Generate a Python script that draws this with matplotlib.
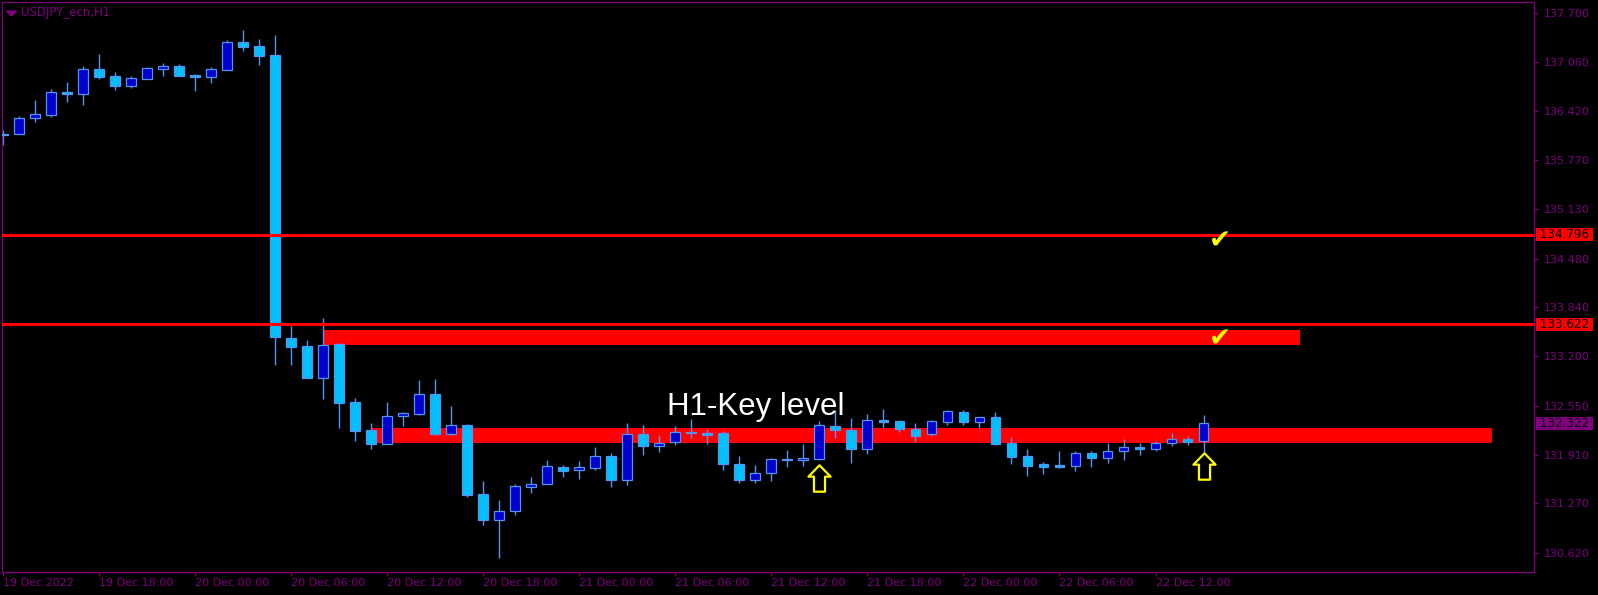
# USDJPY H1 chart with key levels (MT4 style)

import numpy as np
import matplotlib.pyplot as plt
import matplotlib.transforms as mtransforms
from matplotlib.path import Path

# Candles (bar 0 = 19 Dec 2022)
opens = [136.105, 136.112, 136.322, 136.369, 136.663, 136.637, 136.965, 136.873, 136.750, 136.842,
         136.973, 137.004, 136.890, 136.868, 136.960, 137.319, 137.267, 137.153, 133.435, 133.330,
         132.918, 133.360, 132.595, 132.228, 132.052, 132.411, 132.445, 132.700, 132.183, 132.293,
         131.388, 131.054, 131.165, 131.487, 131.519, 131.746, 131.703, 131.737, 131.886, 131.571,
         132.175, 132.018, 132.070, 132.209, 132.193, 132.193, 131.781, 131.571, 131.663, 131.834,
         131.834, 131.855, 132.280, 132.228, 131.978, 132.363, 132.346, 132.241, 132.175, 132.340,
         132.464, 132.340, 132.398, 132.057, 131.886, 131.781, 131.768, 131.763, 131.926, 131.868,
         131.952, 132.004, 131.978, 132.057, 132.109, 132.083]
highs = [136.168, 136.348, 136.562, 136.707, 136.798, 137.008, 137.166, 136.930, 136.877, 136.995,
         137.048, 137.035, 136.903, 136.995, 137.350, 137.481, 137.363, 137.415, 133.596, 133.413,
         133.701, 133.377, 132.652, 132.324, 132.599, 132.468, 132.888, 132.901, 132.546, 132.310,
         131.562, 131.313, 131.523, 131.615, 131.838, 131.772, 131.825, 132.004, 131.926, 132.323,
         132.297, 132.166, 132.284, 132.376, 132.245, 132.219, 131.886, 131.768, 131.864, 131.969,
         132.048, 132.346, 132.494, 132.385, 132.441, 132.507, 132.363, 132.323, 132.363, 132.494,
         132.494, 132.398, 132.468, 132.139, 131.982, 131.811, 131.956, 131.956, 131.956, 132.061,
         132.113, 132.061, 132.083, 132.192, 132.153, 132.428]
lows = [135.970, 136.112, 136.277, 136.343, 136.540, 136.497, 136.842, 136.697, 136.724, 136.842,
        136.881, 136.881, 136.684, 136.789, 136.960, 137.209, 137.025, 133.085, 133.085, 132.918,
        132.638, 132.262, 132.087, 131.982, 132.052, 132.284, 132.428, 132.166, 132.170, 131.356,
        130.985, 130.556, 131.116, 131.409, 131.519, 131.619, 131.592, 131.711, 131.487, 131.514,
        131.907, 131.939, 132.039, 132.130, 132.044, 131.711, 131.540, 131.540, 131.558, 131.750,
        131.763, 131.838, 132.122, 131.794, 131.913, 132.262, 132.209, 132.078, 132.157, 132.301,
        132.301, 132.262, 132.039, 131.789, 131.632, 131.658, 131.737, 131.697, 131.750, 131.802,
        131.842, 131.907, 131.960, 132.025, 132.035, 131.934]
closes = [136.115, 136.322, 136.375, 136.663, 136.637, 136.965, 136.868, 136.750, 136.847, 136.978,
          137.004, 136.881, 136.868, 136.965, 137.319, 137.262, 137.144, 133.448, 133.325, 132.918,
          133.343, 132.590, 132.222, 132.052, 132.411, 132.451, 132.700, 132.183, 132.293, 131.382,
          131.054, 131.165, 131.493, 131.519, 131.755, 131.697, 131.746, 131.886, 131.571, 132.175,
          132.018, 132.057, 132.201, 132.188, 132.170, 131.781, 131.571, 131.663, 131.847, 131.851,
          131.860, 132.293, 132.228, 131.978, 132.359, 132.340, 132.241, 132.157, 132.346, 132.477,
          132.340, 132.398, 132.052, 131.881, 131.763, 131.750, 131.750, 131.926, 131.868, 131.952,
          132.004, 131.978, 132.057, 132.109, 132.078, 132.322]

x_label_bars = [0, 6, 12, 18, 24, 30, 36, 42, 48, 54, 60, 66, 72]
x_labels = ["19 Dec 2022", "19 Dec 18:00", "20 Dec 00:00", "20 Dec 06:00", "20 Dec 12:00",
            "20 Dec 18:00", "21 Dec 00:00", "21 Dec 06:00", "21 Dec 12:00", "21 Dec 18:00",
            "22 Dec 00:00", "22 Dec 06:00", "22 Dec 12:00"]
y_ticks = [130.620, 131.270, 131.910, 132.550, 133.200, 133.840,
           134.480, 135.130, 135.770, 136.420, 137.060, 137.700]

# key levels, zones and markers
levels = [134.796, 133.622]
zone_start = [20, 23]
zone_end = [81, 93]
zone_low = [133.347, 132.065]
zone_high = [133.544, 132.258]
arrow_bars = [51, 75]
arrow_prices = [131.601, 131.763]
check_bars = [76, 76]
check_prices = [134.705, 133.416]
last_price = 132.322

purple = "#800080"
bull_fill = "#0000CD"
bear_fill = "#00BFFF"
wick_col = "#5592F2"

fig = plt.figure(figsize=(15.98, 5.95), dpi=100, facecolor="black")
ax = fig.add_axes([2.3 / 1598, 23.5 / 595, 1532 / 1598, 569.2 / 595])
ax.set_facecolor("black")

x = np.arange(len(opens))
o = np.array(opens)
c = np.array(closes)
up = c >= o

# zones sit behind the candles
for x0, x1, y0, y1 in zip(zone_start, zone_end, zone_low, zone_high):
    ax.fill_between([x0, x1], y0, y1, color="#FF0000", lw=0, zorder=1)

ax.vlines(x, lows, highs, color=wick_col, lw=1.0, zorder=2)
ax.bar(x, np.abs(c - o), bottom=np.minimum(o, c), width=0.62,
       color=np.where(up, bull_fill, bear_fill), edgecolor=wick_col, linewidth=0.9, zorder=3)

for lv in levels:
    ax.axhline(lv, color="#FF0000", lw=2.2, zorder=5)

# hollow up arrows under the signal candles
arrow = Path([(0, 1), (0.84, 0.14), (0.42, 0.14), (0.42, -1), (-0.42, -1), (-0.42, 0.14),
              (-0.84, 0.14), (0, 1)],
             [Path.MOVETO] + [Path.LINETO] * 6 + [Path.CLOSEPOLY])
ax.plot(arrow_bars, arrow_prices, ls="none", marker=arrow, markersize=19,
        markerfacecolor="black", markeredgecolor="#FFFF00", markeredgewidth=1.6, zorder=6)

for bx, py in zip(check_bars, check_prices):
    ax.text(bx, py, "\u2714", color="#FFFF00", fontsize=19, ha="center", va="center", zorder=6)

ax.text(47.0, 132.428, "H1-Key level", color="white", fontsize=22.5,
        family="Liberation Sans", ha="center", va="baseline", zorder=7)

ax.set_xlim(-0.0625, 95.67)
ax.set_ylim(130.375, 137.844)

for sp in ax.spines.values():
    sp.set_color(purple)
    sp.set_linewidth(0.9)

ax.yaxis.tick_right()
ax.set_yticks(y_ticks)
ax.set_yticklabels([f"{v:.3f}" for v in y_ticks])
ax.set_xticks(x_label_bars)
ax.set_xticklabels(x_labels)
for lab in ax.get_xticklabels():
    lab.set_ha("left")
ax.tick_params(axis="both", colors=purple, labelcolor=purple, labelsize=8,
               length=3, width=0.8, direction="out")
ax.tick_params(axis="y", pad=4)
ax.tick_params(axis="x", pad=2)

# price tags on the right axis
trans = mtransforms.blended_transform_factory(ax.transAxes, ax.transData)
for lv in levels:
    ax.text(1.001, lv, f" {lv:.3f} ", transform=trans, color="black", fontsize=8.6,
            ha="left", va="center", clip_on=False, zorder=8,
            bbox=dict(boxstyle="square,pad=0", facecolor="#FF0000", edgecolor="none"))
ax.text(1.001, last_price, f" {last_price:.3f} ", transform=trans, color="black", fontsize=8.6,
        ha="left", va="center", clip_on=False, zorder=8,
        bbox=dict(boxstyle="square,pad=0", facecolor=purple, edgecolor="none"))

# chart title with the little drop-down triangle
tri = Path([(-1, 0.5), (1, 0.5), (0, -0.5), (-1, 0.5)],
           [Path.MOVETO, Path.LINETO, Path.LINETO, Path.CLOSEPOLY])
fig.lines.append(plt.Line2D([10.5 / 1598], [1 - 12.5 / 595], transform=fig.transFigure,
                            ls="none", marker=tri, markersize=7, color=purple))
fig.text(21 / 1598, 1 - 12.5 / 595, "USDJPY_ecn,H1", color=purple, fontsize=8.5,
         ha="left", va="center")

fig.savefig("out.png", dpi=100, facecolor="black")
